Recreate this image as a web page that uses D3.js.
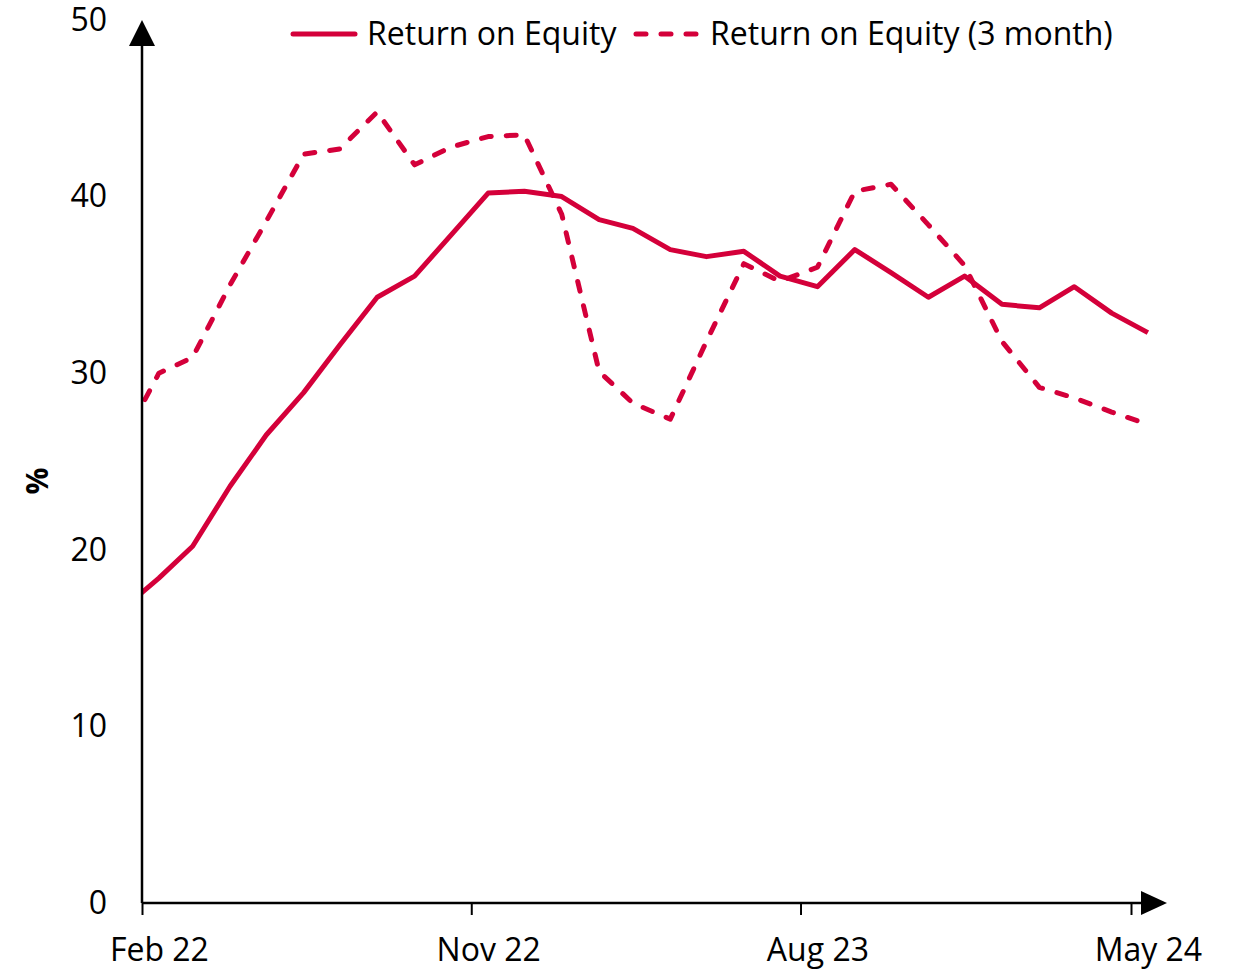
<!DOCTYPE html>
<html>
<head>
<meta charset="utf-8">
<script src="https://cdn.jsdelivr.net/npm/d3@7"></script>
<style>
  body { margin: 0; background: #fff; }
  text { font-family: "Open Sans", sans-serif; fill: #000; }
</style>
</head>
<body>
<div id="chart"></div>
<script>
// monthly points, Jan 22 .. May 24 (Jan 22 sits left of the axis and gets clipped)
const months = ["2022-01","2022-02","2022-03","2022-04","2022-05","2022-06","2022-07","2022-08","2022-09","2022-10","2022-11","2022-12",
  "2023-01","2023-02","2023-03","2023-04","2023-05","2023-06","2023-07","2023-08","2023-09","2023-10","2023-11","2023-12",
  "2024-01","2024-02","2024-03","2024-04","2024-05"];
const roe = [16.6, 18.4, 20.2, 23.6, 26.5, 28.9, 31.6, 34.3, 35.5, 37.8, 40.2, 40.3,
  40.0, 38.7, 38.2, 37.0, 36.6, 36.9, 35.5, 34.9, 37.0, 35.7, 34.3, 35.5,
  33.9, 33.7, 34.9, 33.4, 32.3];
const roe3m = [26.0, 30.0, 30.9, 35.0, 38.6, 42.4, 42.7, 44.8, 41.8, 42.8, 43.4, 43.5,
  39.0, 30.1, 28.3, 27.4, 31.8, 36.2, 35.2, 36.0, 40.3, 40.7, 38.4, 36.1,
  31.8, 29.2, 28.6, 27.8, 27.1];
const tickMonths = ["2022-02", "2022-11", "2023-08", "2024-05"];
const yTicks = [0, 10, 20, 30, 40, 50];
const seriesNames = ["Return on Equity", "Return on Equity (3 month)"];

const width = 1234, height = 970;
const color = "#d4003a";
const parse = d3.timeParse("%Y-%m");
const mid = s => d3.timeDay.offset(parse(s), 14);

const x = d3.scaleTime()
  .domain([parse("2022-02"), parse("2024-05")])
  .range([142, 1131]);
const y = d3.scaleLinear().domain([0, 50]).range([903, 20]);

const svg = d3.select("#chart").append("svg")
  .attr("width", width).attr("height", height);

svg.append("defs").append("clipPath").attr("id", "plot")
  .append("rect").attr("x", 142).attr("y", 0).attr("width", 1100).attr("height", 903);

const line = d3.line()
  .x((d, i) => x(mid(months[i])))
  .y(d => y(d));

const g = svg.append("g").attr("clip-path", "url(#plot)");
g.append("path").datum(roe3m)
  .attr("fill", "none").attr("stroke", color).attr("stroke-width", 5)
  .attr("stroke-dasharray", "10,15").attr("stroke-linecap", "round")
  .attr("stroke-linejoin", "round")
  .attr("d", line);
g.append("path").datum(roe)
  .attr("fill", "none").attr("stroke", color).attr("stroke-width", 5)
  .attr("stroke-linejoin", "round")
  .attr("d", line);

// x axis
const xAxis = svg.append("g").attr("transform", `translate(0,${y(0)})`)
  .call(d3.axisBottom(x)
    .tickValues(tickMonths.map(parse))
    .tickFormat(d3.timeFormat("%b %y"))
    .tickSize(12).tickSizeOuter(0));
xAxis.select(".domain").remove();
xAxis.selectAll(".tick line").attr("stroke", "#000").attr("stroke-width", 2);
xAxis.selectAll(".tick text")
  .attr("x", d => x(d3.timeDay.offset(d, 14)) - x(d))
  .attr("y", 47).attr("dy", "0.35em")
  .style("font-size", "32px");
svg.append("line").attr("x1", 142).attr("x2", 1145)
  .attr("y1", y(0)).attr("y2", y(0)).attr("stroke", "#000").attr("stroke-width", 2.5);
svg.append("path").attr("d", `M1141,${y(0) - 12}L1167,${y(0)}L1141,${y(0) + 12}Z`).attr("fill", "#000");

// y axis
const yAxis = svg.append("g").attr("transform", "translate(142,0)")
  .call(d3.axisLeft(y).tickValues(yTicks).tickSize(0));
yAxis.select(".domain").remove();
yAxis.selectAll(".tick text").attr("x", -35).style("font-size", "32px");
svg.append("line").attr("x1", 142).attr("x2", 142)
  .attr("y1", y(0)).attr("y2", 40).attr("stroke", "#000").attr("stroke-width", 2.5);
svg.append("path").attr("d", "M129,46L142,20L155,46Z").attr("fill", "#000");

svg.append("text")
  .attr("transform", "translate(37,481) rotate(-90)")
  .attr("text-anchor", "middle").attr("dy", "0.35em")
  .style("font-size", "30px").style("font-weight", "bold")
  .text("%");

// legend
const legend = svg.append("g");
const items = [
  { name: seriesNames[0], x: 291, dash: null },
  { name: seriesNames[1], x: 634, dash: "10,15" }
];
items.forEach(it => {
  legend.append("line")
    .attr("x1", it.x + 2).attr("x2", it.x + 64).attr("y1", 34).attr("y2", 34)
    .attr("stroke", color).attr("stroke-width", 5)
    .attr("stroke-linecap", "round")
    .attr("stroke-dasharray", it.dash);
  legend.append("text")
    .attr("x", it.x + 76).attr("y", 34).attr("dy", "0.35em")
    .style("font-size", "32px")
    .text(it.name);
});
</script>
</body>
</html>
